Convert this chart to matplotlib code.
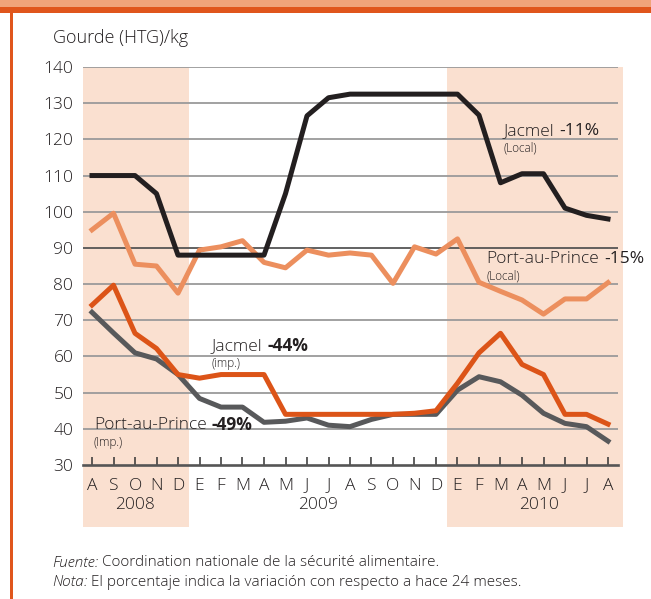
import numpy as np
import matplotlib
matplotlib.use("Agg")
import matplotlib.pyplot as plt
from matplotlib.patches import Rectangle
from matplotlib.transforms import blended_transform_factory

plt.rcParams["font.family"] = ["Open Sans", "DejaVu Sans"]
plt.rcParams["font.weight"] = "light"

# Months Aug 2008 .. Aug 2010
months = ["A", "S", "O", "N", "D", "E", "F", "M", "A", "M", "J", "J", "A",
          "S", "O", "N", "D", "E", "F", "M", "A", "M", "J", "J", "A"]
years = ["2008", "2009", "2010"]
year_pos = [2.0, 10.5, 20.8]

jacmel_local = [110, 110, 110, 105, 88, 88, 88, 88, 88, 105, 126.5, 131.5, 132.5,
                132.5, 132.5, 132.5, 132.5, 132.5, 126.7, 108, 110.5, 110.5, 101, 99, 98]
pap_local = [95, 99.6, 85.5, 85, 77.5, 89.4, 90.3, 92, 86, 84.5, 89.4, 88, 88.6,
             88, 80.2, 90.3, 88.3, 92.5, 80.5, 78, 75.6, 71.7, 75.9, 75.9, 80.4]
jacmel_imp = [74.2, 79.7, 66.4, 62.2, 55, 54, 55, 55, 55, 44, 44, 44, 44,
              44, 44, 44.3, 45, 52.6, 61, 66.4, 57.8, 55, 44, 44, 41.3]
pap_imp = [72.2, 66.5, 61, 59.3, 55, 48.4, 46, 46, 41.8, 42.1, 43, 41, 40.6,
           42.6, 44, 44, 44, 50.7, 54.4, 53, 49.3, 44.3, 41.5, 40.6, 36.6]

BLACK = "#231f20"
LIGHT = "#ec8f5e"
RED = "#dc5418"
GREY = "#58595b"
SHADE = "#fae0d0"
TXT = "#231f20"

fig = plt.figure(figsize=(6.51, 5.99), dpi=100)
W, H = 651, 599

# frame decoration: top band and left border
fig.patches.append(Rectangle((0, 1 - 7 / H), 1, 7 / H, transform=fig.transFigure,
                             facecolor="#f0a47a", edgecolor="none"))
fig.patches.append(Rectangle((0, 1 - 12.5 / H), 1, 5.5 / H, transform=fig.transFigure,
                             facecolor="#e0561c", edgecolor="none"))
fig.patches.append(Rectangle((10 / W, 0), 3 / W, 1 - 7 / H, transform=fig.transFigure,
                             facecolor="#e0561c", edgecolor="none"))

ax = fig.add_axes([83 / W, 1 - 465 / H, (618 - 83) / W, (465 - 67) / H])
x = np.arange(len(months))
ax.set_xlim((83 - 92) / 21.5, 24 + (618 - 608) / 21.5)
ax.set_ylim(30, 140)

# shaded year bands (reach below the axis, under year labels)
tr = blended_transform_factory(ax.transData, ax.transAxes)
ybot = (465 - 527) / 398
for x0, x1 in [(ax.get_xlim()[0], 4.5), (16.5, 24.5 + 4 / 21.5)]:
    ax.add_patch(Rectangle((x0, ybot), x1 - x0, 1 - ybot, transform=tr,
                           facecolor=SHADE, edgecolor="none", clip_on=False, zorder=0))

for v in range(40, 141, 10):
    ax.axhline(v, color="#555555" if v == 90 else "#9a9a9a",
               lw=1.3, zorder=1)

ax.plot(x, pap_imp, color=GREY, lw=3.6, zorder=3)
ax.plot(x, jacmel_imp, color=RED, lw=3.6, zorder=4)
ax.plot(x, pap_local, color=LIGHT, lw=3.6, zorder=5)
ax.plot(x, jacmel_local, color=BLACK, lw=3.6, zorder=6)

for s in ["top", "left", "right"]:
    ax.spines[s].set_visible(False)
ax.spines["bottom"].set_color("#555555")
ax.spines["bottom"].set_linewidth(1.9)
ax.spines["bottom"].set_zorder(7)

ax.set_yticks(range(30, 141, 10))
ax.tick_params(axis="y", length=0, pad=7, labelsize=12.5, labelcolor=TXT)
ax.set_xticks(x)
ax.set_xticklabels(months)
ax.tick_params(axis="x", direction="in", length=6, width=1.1, color="#333333",
               pad=9, labelsize=12.5, labelcolor=TXT)

for yr, p in zip(years, year_pos):
    ax.text(p, -0.1, yr, transform=tr, ha="center", va="center",
            fontsize=12.5, color=TXT)

# series labels
def label(xi, yv, name, pct, sub, bold):
    t = ax.text(xi, yv, name, ha="left", va="center", fontsize=12.5,
                color=TXT, zorder=8)
    fig.canvas.draw()
    bb = t.get_window_extent()
    xe = ax.transData.inverted().transform((bb.x1 + 5, 0))[0]
    ax.text(xe, yv, pct, ha="left", va="center", fontsize=12.5, color=TXT,
            fontweight="bold" if bold else "normal", zorder=8)
    ax.text(xi, yv - 4.8, sub, ha="left", va="center", fontsize=8.5,
            color=TXT, zorder=8)

label(19.16, 122.3, "Jacmel", "-11%", "(Local)", False)
label(18.33, 87.0, "Port-au-Prince", "-15%", "(Local)", False)
label(5.58, 62.9, "Jacmel", "-44%", "(imp.)", True)
label(0.09, 41.1, "Port-au-Prince", "-49%", "(Imp.)", True)

fig.text(53 / W, 1 - 38 / H, "Gourde (HTG)/kg", ha="left", va="center",
         fontsize=13, color=TXT)

# footer notes
t1 = fig.text(52 / W, 1 - 563 / H, "Fuente:", style="italic", ha="left",
              va="center", fontsize=11, color=TXT)
t2 = fig.text(52 / W, 1 - 582 / H, "Nota:", style="italic", ha="left",
              va="center", fontsize=11, color=TXT)
fig.canvas.draw()
for t, rest in [(t1, " Coordination nationale de la sécurité alimentaire."),
                (t2, " El porcentaje indica la variación con respecto a hace 24 meses.")]:
    bb = t.get_window_extent()
    fig.text(bb.x1 / W, t.get_position()[1], rest, ha="left", va="center",
             fontsize=11, color=TXT)

fig.savefig("out.png", dpi=100)
